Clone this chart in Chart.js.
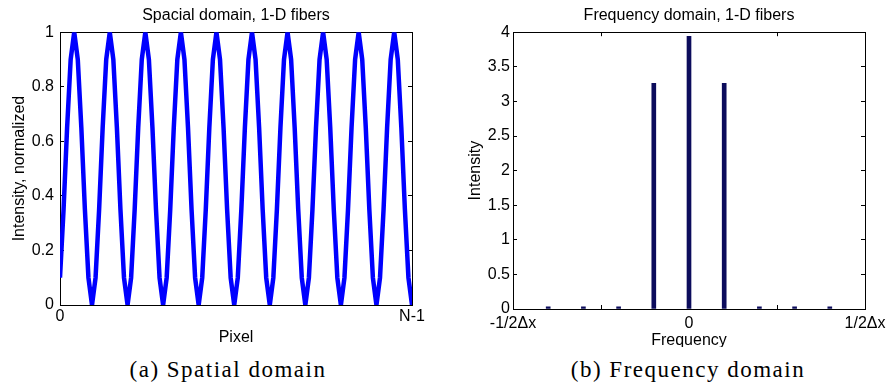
<!DOCTYPE html>
<html>
<head>
<meta charset="utf-8">
<script src="https://cdn.jsdelivr.net/npm/chart.js@4"></script>
<style>
  body { margin: 0; background: #fff; width: 896px; height: 385px; position: relative; overflow: hidden; }
  canvas { position: absolute; top: 0; }
  #spatial { left: 0; }
  #frequency { left: 450px; }
  .caption {
    position: absolute; top: 347px; height: 38px; background: #fff;
    font-family: 'Liberation Serif', serif; font-size: 23px; letter-spacing: 1.5px;
    line-height: 46px; text-align: center; color: #000;
  }
</style>
</head>
<body>
<canvas id="spatial" width="448" height="350"></canvas>
<canvas id="frequency" width="446" height="350"></canvas>
<div class="caption" style="left:100px;width:256px;">(a) Spatial domain</div>
<div class="caption" style="left:560px;width:256px;">(b) Frequency domain</div>
<script>
// spatial domain: intensity per pixel, 0 .. N-1 (N = 100)
const intensity = [
  0.10, 0.35, 0.65, 0.90, 1.00, 0.90, 0.65, 0.35, 0.10, 0.00,
  0.10, 0.35, 0.65, 0.90, 1.00, 0.90, 0.65, 0.35, 0.10, 0.00,
  0.10, 0.35, 0.65, 0.90, 1.00, 0.90, 0.65, 0.35, 0.10, 0.00,
  0.10, 0.35, 0.65, 0.90, 1.00, 0.90, 0.65, 0.35, 0.10, 0.00,
  0.10, 0.35, 0.65, 0.90, 1.00, 0.90, 0.65, 0.35, 0.10, 0.00,
  0.10, 0.35, 0.65, 0.90, 1.00, 0.90, 0.65, 0.35, 0.10, 0.00,
  0.10, 0.35, 0.65, 0.90, 1.00, 0.90, 0.65, 0.35, 0.10, 0.00,
  0.10, 0.35, 0.65, 0.90, 1.00, 0.90, 0.65, 0.35, 0.10, 0.00,
  0.10, 0.35, 0.65, 0.90, 1.00, 0.90, 0.65, 0.35, 0.10, 0.00,
  0.10, 0.35, 0.65, 0.90, 1.00, 0.90, 0.65, 0.35, 0.10, 0.00
];
const pixelTicks = [0, 99];
const pixelTickLabels = ['0', 'N-1'];

// frequency domain (fraction of 1/Δx)
const frequencies = [-0.4, -0.3, -0.2, -0.1, 0, 0.1, 0.2, 0.3, 0.4];
const magnitudes = [0.03, 0.03, 0.03, 3.26, 3.94, 3.26, 0.03, 0.03, 0.03];
const freqTicks = [-0.5, 0, 0.5];
const freqTickLabels = ['-1/2\u0394x', '0', '1/2\u0394x'];

Chart.defaults.font.family = "'Liberation Sans', Arial, sans-serif";
Chart.defaults.font.size = 16;
Chart.defaults.color = '#000';
Chart.defaults.animation = false;

// MATLAB style: ticks point into the box, no grid
const inwardGrid = { drawOnChartArea: false, tickLength: -4, color: '#000' };
const boxBorder = { color: '#000', width: 1 };
const plainNumber = v => String(Math.round(v * 10) / 10);

function fixedTicks(values) {
  return scale => { scale.ticks = values.map(v => ({ value: v })); };
}
function hiddenAxis(position, min, max, extra) {
  return Object.assign({
    position: position, min: min, max: max,
    grid: inwardGrid, border: boxBorder,
    ticks: { display: false },
    afterFit: s => { if (position === 'top') s.height = 0; }
  }, extra);
}

new Chart(document.getElementById('spatial'), {
  type: 'line',
  data: {
    datasets: [{
      data: intensity.map((v, i) => ({ x: i, y: v })),
      borderColor: '#0000ff',
      borderWidth: 4.5,
      pointRadius: 0,
      tension: 0,
      clip: 0,
      xAxisID: 'x',
      yAxisID: 'y'
    }]
  },
  options: {
    responsive: false,
    plugins: {
      legend: { display: false },
      tooltip: { enabled: false },
      title: {
        display: true, fullSize: false,
        text: 'Spacial domain, 1-D fibers',
        font: { size: 16, weight: 'normal' },
        padding: { top: 6, bottom: 7 }
      }
    },
    scales: {
      x: {
        type: 'linear', min: 0, max: 99,
        grid: inwardGrid, border: boxBorder,
        afterBuildTicks: fixedTicks(pixelTicks),
        afterFit: s => { s.height = 45; },
        ticks: {
          padding: 6, maxRotation: 0,
          callback: v => pixelTickLabels[pixelTicks.indexOf(v)]
        },
        title: { display: true, text: 'Pixel', padding: { top: 0, bottom: 3 } }
      },
      y: {
        min: 0, max: 1,
        grid: inwardGrid, border: boxBorder,
        afterFit: s => { s.width = 60; },
        ticks: { stepSize: 0.2, padding: 10, callback: plainNumber },
        title: { display: true, text: 'Intensity, normalized', padding: { top: 10, bottom: 0 } }
      },
      xTop: hiddenAxis('top', 0, 99, { type: 'linear', grid: { display: false }, afterBuildTicks: fixedTicks(pixelTicks) }),
      yRight: hiddenAxis('right', 0, 1, {
        ticks: { display: false, stepSize: 0.2 },
        afterFit: s => { s.width = 36; }
      })
    }
  }
});

new Chart(document.getElementById('frequency'), {
  type: 'bar',
  data: {
    datasets: [{
      data: frequencies.map((f, i) => ({ x: f, y: magnitudes[i] })),
      backgroundColor: '#0c0c5c',
      borderWidth: 0,
      barThickness: 4,
      xAxisID: 'x',
      yAxisID: 'y'
    }]
  },
  options: {
    responsive: false,
    plugins: {
      legend: { display: false },
      tooltip: { enabled: false },
      title: {
        display: true, fullSize: false,
        text: 'Frequency domain, 1-D fibers',
        font: { size: 16, weight: 'normal' },
        padding: { top: 6, bottom: 7 }
      }
    },
    scales: {
      x: {
        type: 'linear', min: -0.5, max: 0.5, offset: false,
        grid: inwardGrid, border: boxBorder,
        afterBuildTicks: fixedTicks(freqTicks),
        afterFit: s => { s.height = 41; },
        ticks: {
          padding: 9, maxRotation: 0,
          callback: v => freqTickLabels[freqTicks.indexOf(v)]
        },
        title: { display: true, text: 'Frequency', padding: { top: 0, bottom: 0 } }
      },
      y: {
        min: 0, max: 4,
        grid: inwardGrid, border: boxBorder,
        afterFit: s => { s.width = 63; },
        ticks: { stepSize: 0.5, padding: 7, callback: plainNumber },
        title: { display: true, text: 'Intensity', padding: { top: 16, bottom: 0 } }
      },
      xTop: hiddenAxis('top', -0.5, 0.5, { type: 'linear', offset: false, afterBuildTicks: fixedTicks(freqTicks) }),
      yRight: hiddenAxis('right', 0, 4, {
        ticks: { display: false, stepSize: 0.5 },
        afterFit: s => { s.width = 31; }
      })
    }
  }
});
</script>
</body>
</html>
